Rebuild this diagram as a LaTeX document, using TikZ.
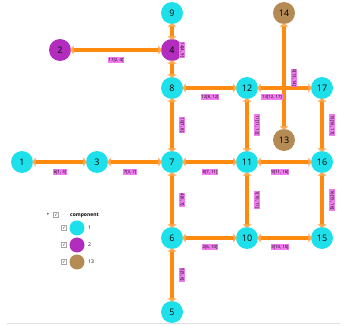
\documentclass[tikz,border=0pt]{standalone}
\usepackage{fontspec}
\setmainfont{Open Sans}
\newfontfamily\symfont{DejaVu Sans}
\usetikzlibrary{arrows.meta,calc}
\definecolor{ncyan}{HTML}{1EE0EA}
\definecolor{npurple}{HTML}{B22DBE}
\definecolor{nbrown}{HTML}{B48A55}
\definecolor{eorange}{HTML}{FF8A10}
\definecolor{tiporange}{HTML}{FFA850}
\definecolor{lpink}{HTML}{F07CF0}
\tikzset{
  vert/.style={circle,minimum size=22pt,inner sep=0pt,font=\fontsize{9}{10}\selectfont},
  vc/.style={vert,fill=ncyan},
  vp/.style={vert,fill=npurple},
  vb/.style={vert,fill=nbrown},
  edge/.style={draw=eorange,line width=4.6pt,shorten <=-1pt,shorten >=-1pt,{Triangle[width=9pt,length=3.5pt,color=tiporange]}-{Triangle[width=9pt,length=3.5pt,color=tiporange]}},
  elab/.style={fill=lpink,inner sep=0.7pt,font=\fontsize{4.3}{4.8}\selectfont},
  rlab/.style={elab,rotate=-90},
  leg/.style={circle,minimum size=15pt,inner sep=0pt},
  legtxt/.style={font=\fontsize{5}{6}\selectfont,anchor=west,inner sep=0pt},
  cbox/.style={draw=gray!70,minimum size=5pt,inner sep=0pt,font=\symfont\fontsize{4}{4}\selectfont}
}
\begin{document}
\begin{tikzpicture}[x=1pt,y=-1pt]
\useasboundingbox (0,0) rectangle (346,326);
% node coordinates
\coordinate (p9) at (172,13);
\coordinate (p14) at (284,13);
\coordinate (p2) at (60,50);
\coordinate (p4) at (172,50);
\coordinate (p8) at (172,88);
\coordinate (p12) at (247,88);
\coordinate (p17) at (322,88);
\coordinate (p13) at (284,140);
\coordinate (p1) at (22,162);
\coordinate (p3) at (97,162);
\coordinate (p7) at (172,162);
\coordinate (p11) at (247,162);
\coordinate (p16) at (322,162);
\coordinate (p6) at (172,238);
\coordinate (p10) at (247,238);
\coordinate (p15) at (322,238);
\coordinate (p5) at (172,312);
% nodes
\node[vc] (n9) at (p9) {9};
\node[vb] (n14) at (p14) {14};
\node[vp] (n2) at (p2) {2};
\node[vp] (n4) at (p4) {4};
\node[vc] (n8) at (p8) {8};
\node[vc] (n12) at (p12) {12};
\node[vc] (n17) at (p17) {17};
\node[vb] (n13) at (p13) {13};
\node[vc] (n1) at (p1) {1};
\node[vc] (n3) at (p3) {3};
\node[vc] (n7) at (p7) {7};
\node[vc] (n11) at (p11) {11};
\node[vc] (n16) at (p16) {16};
\node[vc] (n6) at (p6) {6};
\node[vc] (n10) at (p10) {10};
\node[vc] (n15) at (p15) {15};
\node[vc] (n5) at (p5) {5};
% edges
\draw[edge] (n2) -- (n4);
\draw[edge] (n9) -- (n4);
\draw[edge] (n4) -- (n8);
\draw[edge] (n8) -- (n7);
\draw[edge] (n8) -- (n12);
\draw[edge] (n12) -- (n17);
\draw[edge] (n14) -- (n13);
\draw[edge] (n12) -- (n11);
\draw[edge] (n17) -- (n16);
\draw[edge] (n1) -- (n3);
\draw[edge] (n3) -- (n7);
\draw[edge] (n7) -- (n11);
\draw[edge] (n11) -- (n16);
\draw[edge] (n7) -- (n6);
\draw[edge] (n11) -- (n10);
\draw[edge] (n16) -- (n15);
\draw[edge] (n6) -- (n10);
\draw[edge] (n10) -- (n15);
\draw[edge] (n6) -- (n5);
% edge labels
\node[elab] (l1) at (116,60) {17[2, 4]};
\node[rlab] (l2) at (182,50) {14[4, 9]};
\node[rlab] (l3) at (182,125) {10[7, 8]};
\node[elab] (l4) at (210,97) {12[8, 12]};
\node[elab] (l5) at (272,97) {13[12, 17]};
\node[rlab] (l6) at (294,78) {0[13, 14]};
\node[rlab] (l7) at (257,125) {11[11, 12]};
\node[rlab] (l8) at (332,125) {15[16, 17]};
\node[elab] (l9) at (60,172) {6[1, 3]};
\node[elab] (l10) at (130,172) {7[3, 7]};
\node[elab] (l11) at (210,172) {8[7, 11]};
\node[elab] (l12) at (280,172) {9[11, 16]};
\node[rlab] (l13) at (182,200) {4[6, 7]};
\node[rlab] (l14) at (257,200) {1[10, 11]};
\node[rlab] (l15) at (332,200) {16[15, 16]};
\node[elab] (l16) at (210,247) {2[6, 10]};
\node[elab] (l17) at (280,247) {3[10, 15]};
\node[rlab] (l18) at (182,275) {5[5, 6]};
% legend
\node[legtxt,font=\symfont\fontsize{3.5}{4}\selectfont] (lg0) at (47,215) {▾};
\node[cbox] (cb0) at (56,215) {✓};
\node[legtxt,text=gray,font=\symfont\fontsize{4}{4}\selectfont] (lg1) at (61,215) {⋰};
\node[legtxt,font=\bfseries\fontsize{5}{6}\selectfont] (lgt) at (70,215) {component};
\node[cbox] (cb1) at (64,228) {✓};
\node[leg,fill=ncyan] (lc1) at (77,228) {};
\node[legtxt] (lt1) at (88,228) {1};
\node[cbox] (cb2) at (64,245) {✓};
\node[leg,fill=npurple] (lc2) at (77,245) {};
\node[legtxt] (lt2) at (88,245) {2};
\node[cbox] (cb3) at (64,262) {✓};
\node[leg,fill=nbrown] (lc3) at (77,262) {};
\node[legtxt] (lt3) at (88,262) {13};
% bottom rule
\draw[gray!25,line width=0.8pt] (7,323) -- (340,323);
\end{tikzpicture}
\end{document}
